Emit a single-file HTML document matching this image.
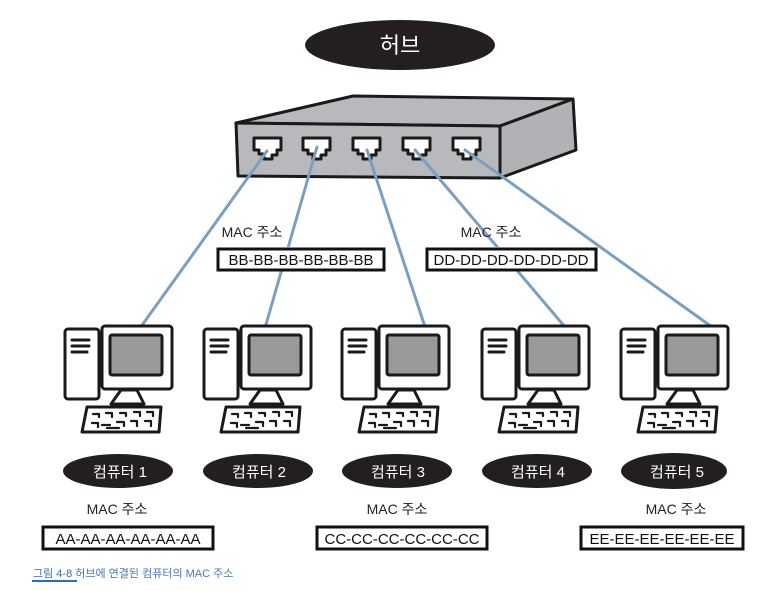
<!DOCTYPE html>
<html><head><meta charset="utf-8"><style>
html,body{margin:0;padding:0;background:#fff;width:775px;height:591px;overflow:hidden}
svg{display:block}
text{font-family:"Liberation Sans","Noto Sans CJK KR",sans-serif}
</style></head><body>
<svg width="775" height="591" viewBox="0 0 775 591" xmlns="http://www.w3.org/2000/svg">
<defs>
<g id="pc" stroke="#1a1a1a" stroke-width="3" stroke-linejoin="round" stroke-linecap="round">
  <rect x="0" y="3" width="34" height="70" rx="3" fill="#fff"/>
  <path d="M7 14 H24 M7 20 H24 M7 26 H22" fill="none"/>
  <rect x="37" y="0" width="70" height="63" rx="3" fill="#fff"/>
  <rect x="45" y="9" width="52" height="40" rx="2" fill="#9a9a9b"/>
  <polygon points="56,64 72,64 79,78 46,78" fill="#fff"/>
  <polygon points="22,81 96,81 94,106 17,106" fill="#fff"/>
  <path d="M28 88h6v3M41 87h6v4M55 87h6v3M69 86h6v4M82 86h6v4M27 97h6v4M37 99h8M52 96h7v4M66 95h6v5M80 95h6v5M42 102h12" fill="none" stroke-width="2.2"/>
</g>
</defs>
<ellipse cx="400" cy="45" rx="95" ry="25" fill="#231f20"/>
<text x="400" y="53" font-size="22" fill="#fff" text-anchor="middle">허브</text>
<g stroke="#1a1a1a" stroke-width="3" stroke-linejoin="round">
<polygon points="236,123 353,96 573,99 500,126" fill="#b8b9bc"/>
<polygon points="500,126 573,99 576,150 500,178" fill="#b1b2b5"/>
<polygon points="236,123 500,126 500,178 238,176" fill="#b8b9bc"/>
</g>
<g stroke="#1a1a1a" stroke-width="3" fill="#fff" stroke-linejoin="round">
<path d="M254 138h27v12h-4v5h-5v4h-8v-5h-5v-4h-5z"/>
<path d="M303 138h27v12h-4v5h-5v4h-8v-5h-5v-4h-5z"/>
<path d="M353 138h27v12h-4v5h-5v4h-8v-5h-5v-4h-5z"/>
<path d="M403 138h27v12h-4v5h-5v4h-8v-5h-5v-4h-5z"/>
<path d="M453 138h27v12h-4v5h-5v4h-8v-5h-5v-4h-5z"/>
</g>
<g stroke="#7d9fbf" stroke-width="3" fill="none" stroke-linecap="round">
<path d="M267 151 L140 328"/>
<path d="M317 147 L265 328"/>
<path d="M367 150 L425 327"/>
<path d="M415 150 L565 327"/>
<path d="M465 150 L712 327"/>
</g>
<use href="#pc" x="65" y="326"/>
<use href="#pc" x="204" y="326"/>
<use href="#pc" x="342" y="326"/>
<use href="#pc" x="482" y="326"/>
<use href="#pc" x="621" y="326"/>
<rect x="216" y="247" width="170" height="24" fill="#fff"/>
<rect x="425" y="247" width="173" height="24" fill="#fff"/>
<text x="252" y="237" font-size="14" fill="#222" text-anchor="middle">MAC 주소</text>
<rect x="218" y="249" width="166" height="21" fill="#fff" stroke="#111" stroke-width="3"/>
<text x="301" y="265" font-size="15" fill="#111" text-anchor="middle">BB-BB-BB-BB-BB-BB</text>
<text x="491" y="237" font-size="14" fill="#222" text-anchor="middle">MAC 주소</text>
<rect x="427" y="249" width="169" height="21" fill="#fff" stroke="#111" stroke-width="3"/>
<text x="511" y="265" font-size="15" fill="#111" text-anchor="middle">DD-DD-DD-DD-DD-DD</text>
<g fill="#231f20">
<ellipse cx="118" cy="471" rx="55" ry="17"/>
<ellipse cx="258" cy="471" rx="55" ry="17"/>
<ellipse cx="397" cy="471" rx="55" ry="17"/>
<ellipse cx="537" cy="471" rx="55" ry="17"/>
<ellipse cx="674" cy="471" rx="53" ry="18"/>
</g>
<g font-size="15" fill="#fff" text-anchor="middle">
<text x="120" y="477">컴퓨터 1</text>
<text x="259" y="477">컴퓨터 2</text>
<text x="398" y="477">컴퓨터 3</text>
<text x="538" y="477">컴퓨터 4</text>
<text x="677" y="477">컴퓨터 5</text>
</g>
<g font-size="14" fill="#222" text-anchor="middle">
<text x="117" y="514">MAC 주소</text>
<text x="397" y="514">MAC 주소</text>
<text x="676" y="514">MAC 주소</text>
</g>
<g fill="#fff" stroke="#111" stroke-width="3">
<rect x="43" y="527" width="170" height="22"/>
<rect x="317" y="527" width="170" height="22"/>
<rect x="581" y="527" width="162" height="22"/>
</g>
<g font-size="15" fill="#111" text-anchor="middle">
<text x="128" y="544">AA-AA-AA-AA-AA-AA</text>
<text x="402" y="544">CC-CC-CC-CC-CC-CC</text>
<text x="662" y="544">EE-EE-EE-EE-EE-EE</text>
</g>
<text x="33" y="577" font-size="11" fill="#3a6ea5">그림 4-8 <tspan fill="#4a78b0">허브에 연결된 컴퓨터의 MAC 주소</tspan></text>
<rect x="32" y="580" width="45" height="2" fill="#2f6db5"/>
</svg>
</body></html>
